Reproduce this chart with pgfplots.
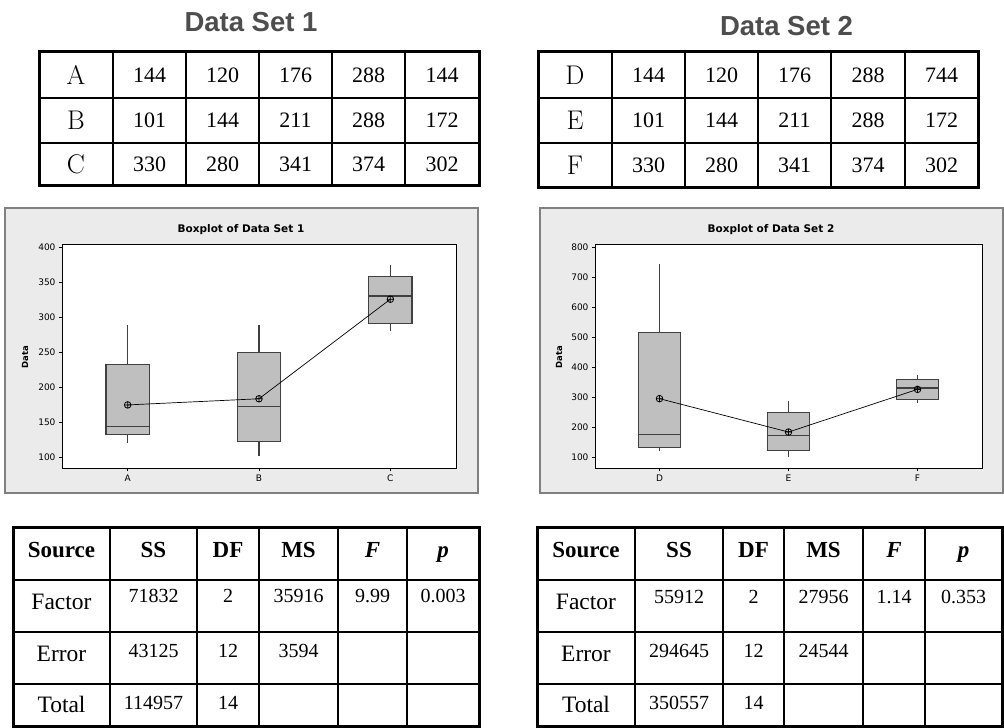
\documentclass[border=0pt]{standalone}
\usepackage{pgfplots}
\pgfplotsset{compat=1.18}
\usetikzlibrary{plotmarks}
\usepackage{fontspec}
\newfontfamily\tnr{Liberation Serif}
\newfontfamily\arl{Liberation Sans}
\newfontfamily\dvs{DejaVu Sans}
\definecolor{panelbg}{HTML}{EBEBEB}
\definecolor{panelbd}{HTML}{808080}
\definecolor{boxfill}{HTML}{BFBFBF}
\definecolor{boxedge}{HTML}{404040}
\definecolor{titlegray}{HTML}{4D4D4D}
\pgfplotsset{mtb/.style={scale only axis, height=224pt, anchor=south west,
  xmin=0.5, xmax=3.5, xtick={1,2,3}, tick pos=left, tick align=outside,
  major tick length=3pt, tick style={black, line width=0.6pt},
  axis line style={black, line width=0.8pt},
  axis background/.style={fill=white},
  ticklabel style={font=\dvs\fontsize{9}{10}\selectfont},
  /pgf/number format/assume math mode=true},
  bx/.style={draw=boxedge, fill=boxfill, line width=1.1pt},
  wk/.style={draw=boxedge, line width=1.1pt},
  mn/.style={black, line width=0.7pt, mark=oplus, mark size=3.3pt, mark options={line width=0.8pt}}}
% #1 position, #2 left, #3 right, #4 lower whisker, #5 Q1, #6 median, #7 Q3, #8 upper whisker
\newcommand\bxp[8]{%
  \addplot[bx] coordinates {(#2,#5) (#3,#5) (#3,#7) (#2,#7)} -- cycle;
  \addplot[wk] coordinates {(#1,#4) (#1,#5)};
  \addplot[wk] coordinates {(#1,#7) (#1,#8)};
  \addplot[wk] coordinates {(#2,#6) (#3,#6)};
}
\begin{document}
\begin{tikzpicture}
\useasboundingbox (0pt,0pt) rectangle (1004pt,728pt);
\begin{scope}[x=1pt,y=-1pt,yshift=728pt]
  \fill[white] (0,0) rectangle (1004,728);
  \draw[panelbd, fill=panelbg, line width=1.5pt] (5,208) rectangle (478,493);
  \draw[panelbd, fill=panelbg, line width=1.5pt] (540,208) rectangle (1003,493);
\end{scope}

% ---------- Boxplot of Data Set 1 ----------
\begin{axis}[mtb, width=394pt, at={(62pt,260pt)},
  ymin=84.3, ymax=404.3, ytick={100,150,...,400}, xticklabels={A,B,C}]
\bxp{1}{0.835}{1.165}{120}{132}{144}{232}{288}
\bxp{2}{1.835}{2.165}{101}{122.5}{172}{249.5}{288}
\bxp{3}{2.835}{3.165}{280}{291}{330}{357.5}{374}
\addplot[mn] coordinates {(1,174.4) (2,183.2) (3,325.4)};
\end{axis}

% ---------- Boxplot of Data Set 2 ----------
\begin{axis}[mtb, width=387pt, at={(595pt,260pt)},
  ymin=63.3, ymax=810, ytick={100,200,...,800}, xticklabels={D,E,F}]
\bxp{1}{0.835}{1.165}{120}{132}{176}{516}{744}
\bxp{2}{1.835}{2.165}{101}{122.5}{172}{249.5}{288}
\bxp{3}{2.835}{3.165}{280}{291}{330}{357.5}{374}
\addplot[mn] coordinates {(1,294.4) (2,183.2) (3,325.4)};
\end{axis}

\begin{scope}[x=1pt,y=-1pt,yshift=728pt]
  % panel titles and y labels
  \node[anchor=base, font=\dvs\bfseries\fontsize{10.5}{12}\selectfont] at (241,232.5) {Boxplot of Data Set 1};
  \node[anchor=base, font=\dvs\bfseries\fontsize{10.5}{12}\selectfont] at (771,232.5) {Boxplot of Data Set 2};
  \node[rotate=90, font=\dvs\bfseries\fontsize{8.5}{10}\selectfont] at (25,357) {Data};
  \node[rotate=90, font=\dvs\bfseries\fontsize{8.5}{10}\selectfont] at (559,357) {Data};

  % big titles
  \node[font=\arl\bfseries\fontsize{27.5}{30}\selectfont, text=titlegray] at (251,21.7) {Data Set 1};
  \node[font=\arl\bfseries\fontsize{27.5}{30}\selectfont, text=titlegray] at (786.5,25.8) {Data Set 2};

  % ---- data table 1 ----
  \foreach \x in {113,186,259,332,405} \draw[line width=1.2pt] (\x,52) -- (\x,186);
  \foreach \y in {98,143} \draw[line width=1.2pt] (39,\y) -- (479,\y);
  \draw[line width=3pt] (39,52) rectangle (479,186);
  \begin{scope}[every node/.style={font=\fontsize{27}{30}\selectfont}]
    \node at (76,75) {A}; \node at (76,120.5) {B}; \node at (76,164.5) {C};
  \end{scope}
  \begin{scope}[every node/.style={font=\tnr\fontsize{22}{26}\selectfont}]
    \foreach \x/\t in {149.5/144, 222.5/120, 295.5/176, 368.5/288, 442/144} \node at (\x,75) {\t};
    \foreach \x/\t in {149.5/101, 222.5/144, 295.5/211, 368.5/288, 442/172} \node at (\x,120.5) {\t};
    \foreach \x/\t in {149.5/330, 222.5/280, 295.5/341, 368.5/374, 442/302} \node at (\x,164.5) {\t};
  \end{scope}

  % ---- data table 2 ----
  \foreach \x in {612,685,758,831,905} \draw[line width=1.2pt] (\x,52) -- (\x,188);
  \foreach \y in {98,143} \draw[line width=1.2pt] (538,\y) -- (978,\y);
  \draw[line width=3pt] (538,52) rectangle (978,188);
  \begin{scope}[every node/.style={font=\fontsize{27}{30}\selectfont}]
    \node at (575,75) {D}; \node at (575,120.5) {E}; \node at (575,165.5) {F};
  \end{scope}
  \begin{scope}[every node/.style={font=\tnr\fontsize{22}{26}\selectfont}]
    \foreach \x/\t in {648.5/144, 721.5/120, 794.5/176, 868/288, 941.5/744} \node at (\x,75) {\t};
    \foreach \x/\t in {648.5/101, 721.5/144, 794.5/211, 868/288, 941.5/172} \node at (\x,120.5) {\t};
    \foreach \x/\t in {648.5/330, 721.5/280, 794.5/341, 868/374, 941.5/302} \node at (\x,165.5) {\t};
  \end{scope}

  % ---- ANOVA table 1 ----
  \foreach \x in {110,197,259,338,407} \draw[line width=1.2pt] (\x,528) -- (\x,727);
  \foreach \y in {580,632,684} \draw[line width=1.2pt] (13,\y) -- (479,\y);
  \draw[line width=3pt] (13,528) rectangle (479,726.5);
  \begin{scope}[every node/.style={anchor=base, font=\tnr\bfseries\fontsize{23}{26}\selectfont}]
    \node at (61.5,558) {Source}; \node at (153.5,558) {SS}; \node at (228,558) {DF};
    \node at (298.5,558) {MS}; \node at (372.5,558) {\itshape F}; \node at (443,558) {\itshape p};
  \end{scope}
  \begin{scope}[every node/.style={anchor=base, font=\tnr\fontsize{23.5}{26}\selectfont}]
    \node at (61.5,610) {Factor}; \node at (61.5,662) {Error}; \node at (61.5,713) {Total};
  \end{scope}
  \begin{scope}[every node/.style={anchor=base, font=\tnr\fontsize{20}{24}\selectfont}]
    \foreach \x/\t in {153.5/71832, 228/2, 298.5/35916, 372.5/9.99, 443/0.003} \node at (\x,603) {\t};
    \foreach \x/\t in {153.5/43125, 228/12, 298.5/3594} \node at (\x,658) {\t};
    \foreach \x/\t in {153.5/114957, 228/14} \node at (\x,710) {\t};
  \end{scope}

  % ---- ANOVA table 2 ----
  \foreach \x in {635,723,784,863,925} \draw[line width=1.2pt] (\x,528) -- (\x,727);
  \foreach \y in {580,632,684} \draw[line width=1.2pt] (537,\y) -- (1002,\y);
  \draw[line width=3pt] (537,528) rectangle (1002,726.5);
  \begin{scope}[every node/.style={anchor=base, font=\tnr\bfseries\fontsize{23}{26}\selectfont}]
    \node at (586,558) {Source}; \node at (679,558) {SS}; \node at (753.5,558) {DF};
    \node at (823.5,558) {MS}; \node at (894,558) {\itshape F}; \node at (963.5,558) {\itshape p};
  \end{scope}
  \begin{scope}[every node/.style={anchor=base, font=\tnr\fontsize{23.5}{26}\selectfont}]
    \node at (586,610) {Factor}; \node at (586,662) {Error}; \node at (586,713) {Total};
  \end{scope}
  \begin{scope}[every node/.style={anchor=base, font=\tnr\fontsize{20}{24}\selectfont}]
    \foreach \x/\t in {679/55912, 753.5/2, 823.5/27956, 894/1.14, 963.5/0.353} \node at (\x,604) {\t};
    \foreach \x/\t in {679/294645, 753.5/12, 823.5/24544} \node at (\x,658) {\t};
    \foreach \x/\t in {679/350557, 753.5/14} \node at (\x,710) {\t};
  \end{scope}
\end{scope}
\end{tikzpicture}
\end{document}
